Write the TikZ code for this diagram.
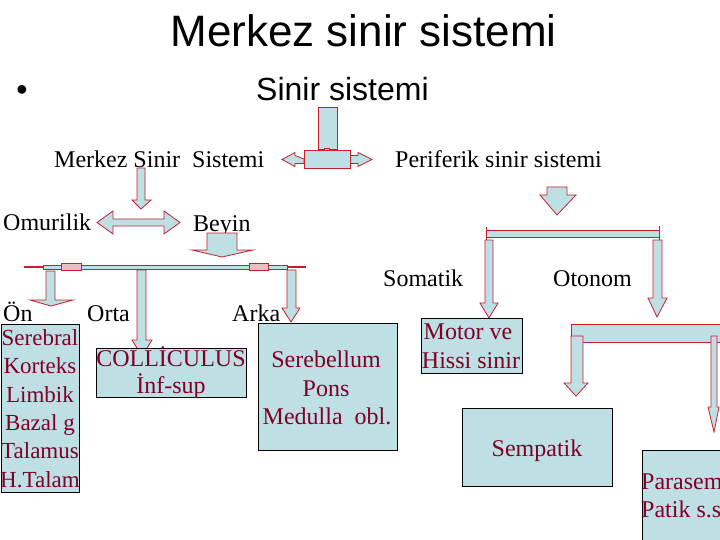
\documentclass[tikz,border=0pt]{standalone}
\usepackage{fontspec}
\setmainfont{Liberation Serif}
\newfontfamily\arialf{Liberation Sans}
\definecolor{lb}{RGB}{190,223,227}
\definecolor{ared}{RGB}{200,30,45}
\definecolor{pinkf}{RGB}{232,192,198}
\definecolor{dred}{RGB}{128,0,40}
\tikzset{
  blk/.style={fill=lb,draw=ared,line width=0.8pt,line join=miter},
  bx/.style={fill=lb,draw=black,line width=0.9pt},
  lab/.style={inner sep=0pt,anchor=base west,font=\fontsize{24}{28}\selectfont},
  btxt/.style={inner sep=0pt,anchor=base,text=dred,font=\fontsize{24}{28}\selectfont},
  otxt/.style={inner sep=0pt,anchor=base,text=dred,font=\fontsize{23}{28}\selectfont},
}
\begin{document}
\begin{tikzpicture}[x=1pt,y=-1pt]
\useasboundingbox (0,0) rectangle (720,540);
% titles
\node[inner sep=0pt,anchor=base,font=\arialf\fontsize{44}{50}\selectfont] (title) at (363.5,47) {Merkez sinir sistemi};
\node[inner sep=0pt,anchor=base,font=\arialf\fontsize{32}{36}\selectfont] (bul) at (22,101) {•};
\node[inner sep=0pt,anchor=base west,font=\arialf\fontsize{32}{36}\selectfont] (sub) at (256,101) {Sinir sistemi};
% labels
\node[lab] (mss) at (54,168) {Merkez Sinir\ \ Sistemi};
\node[lab] (pss) at (395,168) {Periferik sinir sistemi};
\node[lab] (omu) at (3,230) {Omurilik};
\node[lab] (bey) at (193,231) {Beyin};
\node[lab] (som) at (383,286) {Somatik};
\node[lab] (oto) at (553,286) {Otonom};
\node[lab] (on) at (3,321) {Ön};
\node[lab] (orta) at (87,321) {Orta};
\node[lab] (arka) at (232,321) {Arka};
% top callout
\draw[blk] (318,107) rectangle (337,149);
\draw[blk] (324,148) rectangle (329,151);
\draw[blk] (304,159) -- (295,155.5) -- (295,152.5) -- (282,159.5) -- (295,166.5) -- (295,163.5) -- (304,163.5) -- cycle;
\draw[blk] (350,155.5) -- (358,155.5) -- (358,152.5) -- (372,159.5) -- (358,166.5) -- (358,163.5) -- (350,163.5) -- cycle;
\draw[blk] (304,150) rectangle (350,168);
% down arrow under Merkez Sinir Sistemi
\draw[blk] (137,168) -- (145,168) -- (145,200) -- (151,200) -- (141,209) -- (132,200) -- (137,200) -- cycle;
% Omurilik - Beyin double arrow
\draw[blk] (97,222.5) -- (113,211) -- (113,219) -- (164,219) -- (164,211) -- (180,222.5) -- (164,234) -- (164,226) -- (113,226) -- (113,234) -- cycle;
% Beyin arrow
\draw[blk] (207,233) -- (237,233) -- (237,250) -- (253,250) -- (222,257) -- (192,250) -- (207,250) -- cycle;
% horizontal bar brain
\draw[ared,line width=1.6pt] (24,267) -- (306,267);
\draw[blk,line width=0.6pt] (43,265) rectangle (287,269.5);
\draw[fill=pinkf,draw=ared,line width=0.6pt] (61,263.5) rectangle (81,270.5);
\draw[fill=pinkf,draw=ared,line width=0.6pt] (249,263.5) rectangle (268,270.5);
% three down arrows
\draw[blk] (46,271) -- (55,271) -- (55,300) -- (73,300) -- (51,306) -- (30,300) -- (46,300) -- cycle;
\draw[blk] (137,270) -- (146,270) -- (146,340) -- (152,340) -- (142,356) -- (132,340) -- (137,340) -- cycle;
\draw[blk] (287,270) -- (296,270) -- (296,308) -- (300,308) -- (291,322) -- (282,308) -- (287,308) -- cycle;
% periferik arrow
\draw[blk] (547,187) -- (567,187) -- (567,195) -- (576,195) -- (557,215) -- (540,195) -- (547,195) -- cycle;
% somatik / otonom bar
\draw[blk] (486,230) rectangle (659,237);
\draw[ared,line width=0.8pt] (486,227) -- (486,240);
\draw[ared,line width=0.8pt] (659,226) -- (659,240);
\draw[blk] (485,240) -- (493,240) -- (493,303) -- (498,303) -- (489,318) -- (480,303) -- (485,303) -- cycle;
\draw[blk] (653,240) -- (662,240) -- (662,298) -- (667,298) -- (657,317) -- (648,298) -- (653,298) -- cycle;
% otonom bracket
\draw[blk] (571,324) rectangle (725,342);
\draw[blk] (571,336) -- (583,336) -- (583,383) -- (588,383) -- (576,396) -- (564,383) -- (571,383) -- cycle;
\draw[blk] (711,336) -- (717,336) -- (717,407) -- (719,407) -- (714,432) -- (708,407) -- (711,407) -- cycle;
% boxes
\node[bx,inner sep=0pt,minimum width=78pt,minimum height=168pt,anchor=north west] (onbox) at (1,324) {};
\node[bx,inner sep=0pt,minimum width=150pt,minimum height=49pt,anchor=north west] (colbox) at (96,348) {};
\node[bx,inner sep=0pt,minimum width=139pt,minimum height=127pt,anchor=north west] (serbox) at (258,323) {};
\node[bx,inner sep=0pt,minimum width=101pt,minimum height=55pt,anchor=north west] (motbox) at (421,318) {};
\node[bx,inner sep=0pt,minimum width=150pt,minimum height=78pt,anchor=north west] (sembox) at (462,408) {};
\node[bx,inner sep=0pt,minimum width=90pt,minimum height=100pt,anchor=north west] (parbox) at (642,450) {};
% box texts
\node[otxt] (t1) at (40,345) {Serebral};
\node[otxt] (t2) at (40,373) {Korteks};
\node[otxt] (t3) at (40,402) {Limbik};
\node[otxt] (t4) at (40,430) {Bazal g};
\node[otxt] (t5) at (40,458) {Talamus};
\node[otxt] (t6) at (40,487) {H.Talam};
\node[btxt] (c1) at (171,366) {COLLİCULUS};
\node[btxt] (c2) at (171,393) {İnf-sup};
\node[btxt] (s1) at (326,367) {Serebellum};
\node[btxt] (s2) at (326,396) {Pons};
\node[btxt] (s3) at (327,424) {Medulla\ \ obl.};
\node[btxt] (m1) at (468,339) {Motor ve};
\node[btxt] (m2) at (471,368) {Hissi sinir};
\node[btxt] (se) at (537,456) {Sempatik};
\node[btxt,anchor=base west] (p1) at (641,489) {Parasem};
\node[btxt,anchor=base west] (p2) at (641,517) {Patik s.s};
\end{tikzpicture}
\end{document}
